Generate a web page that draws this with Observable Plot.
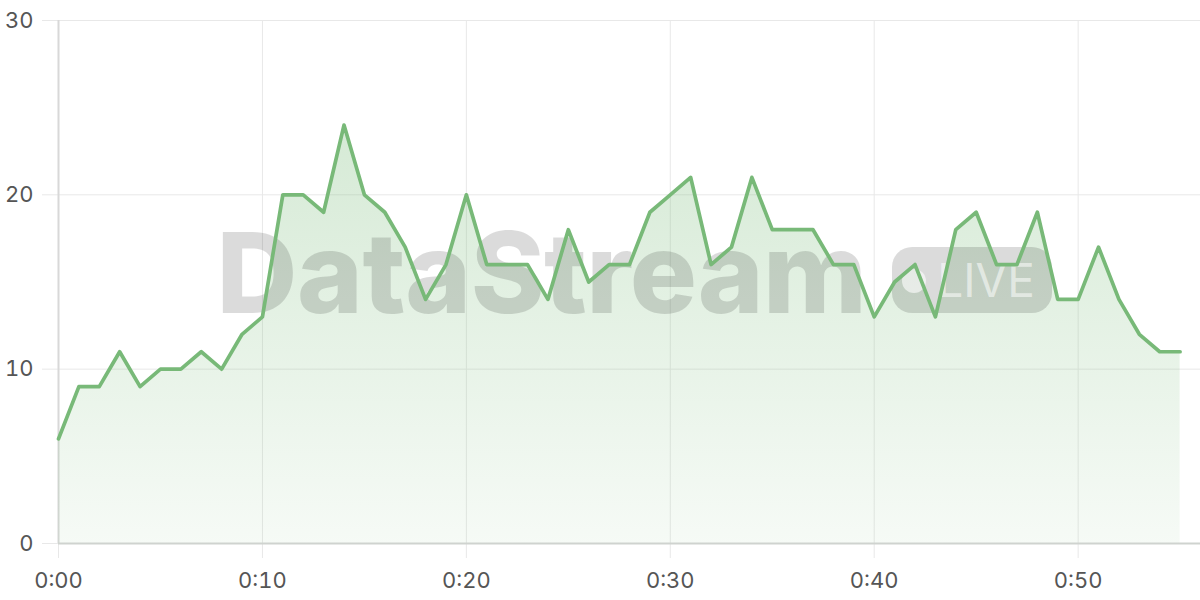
<!DOCTYPE html>
<html>
<head>
<meta charset="utf-8">
<script src="https://cdn.jsdelivr.net/npm/d3@7"></script>
<script src="https://cdn.jsdelivr.net/npm/@observablehq/plot@0.6"></script>
<style>
  html, body { margin: 0; padding: 0; background: #fff; }
  #chart svg { display: block; font-family: Inter, "Noto Sans", sans-serif; }
</style>
</head>
<body>
<div id="chart"></div>
<script>
// minutes since start
const minutes = d3.range(0, 56);
const values = [6, 9, 9, 11, 9, 10, 10, 11, 10, 12,
                13, 20, 20, 19, 24, 20, 19, 17, 14, 16,
                20, 16, 16, 16, 14, 18, 15, 16, 16, 19,
                20, 21, 16, 17, 21, 18, 18, 18, 16, 16,
                13, 15, 16, 13, 18, 19, 16, 16, 19, 14,
                14, 17, 14, 12, 11, 11];
const xTicks = [0, 10, 20, 30, 40, 50];
const yTicks = [0, 10, 20, 30];
const watermark = "DataStream";
const badgeText = "LIVE";

const data = minutes.map((m, i) => ({m, v: values[i]}));
const fmt = d => "0:" + String(d).padStart(2, "0");

const defs = () => {
  const g = d3.create("svg:defs");
  const grad = g.append("linearGradient")
    .attr("id", "areaGrad").attr("x1", 0).attr("y1", 0).attr("x2", 0).attr("y2", 1);
  grad.append("stop").attr("offset", "0%").attr("stop-color", "#7dbd7d").attr("stop-opacity", 0.32);
  grad.append("stop").attr("offset", "100%").attr("stop-color", "#7dbd7d").attr("stop-opacity", 0.07);
  return g.node();
};

const plot = Plot.plot({
  width: 1200,
  height: 600,
  marginLeft: 58,
  marginRight: 0,
  marginTop: 20,
  marginBottom: 57,
  style: {fontSize: "22px", color: "#555", fontFamily: "Inter, 'Noto Sans', sans-serif"},
  x: {domain: [0, 56]},
  y: {domain: [0, 30]},
  marks: [
    defs,
    Plot.gridY(yTicks, {stroke: "#e8e8e8", strokeOpacity: 1}),
    Plot.gridX(xTicks, {stroke: "#e8e8e8", strokeOpacity: 1}),
    Plot.axisY(yTicks, {tickSize: 16, tickPadding: 9, stroke: "#e8e8e8", strokeOpacity: 1, fill: "#555", label: null}),
    Plot.axisX(xTicks, {tickSize: 15, tickPadding: 14, stroke: "#e8e8e8", strokeOpacity: 1, fill: "#555", label: null, tickFormat: fmt}),
    Plot.ruleX([0], {stroke: "#d8d8d8", strokeWidth: 2}),
    Plot.areaY(data, {x: "m", y: "v", fill: "url(#areaGrad)", className: "area"}),
    Plot.ruleY([0], {stroke: "#cfd3cf", strokeWidth: 2}),
    Plot.text([watermark], {frameAnchor: "middle", dx: -88, dy: -5, fontSize: 112, fontWeight: 800,
      fill: "#000", fillOpacity: 0.14, className: "wm"}),
    Plot.line(data, {x: "m", y: "v", stroke: "#78b978", strokeWidth: 3.7, className: "ln"})
  ]
});

// badge for "LIVE" next to watermark
const svg = d3.select(plot);
svg.select("g.wm text").style("letter-spacing", "-0.5px");
const lineG = svg.select("g.ln").node();
const badge = svg.insert("g", () => lineG);
const bx = 892, by = 247, bw = 160, bh = 66;
badge.append("rect").attr("x", bx).attr("y", by).attr("width", bw).attr("height", bh)
  .attr("rx", 20).attr("fill", "#000").attr("fill-opacity", 0.14);
badge.append("circle").attr("cx", bx + 22).attr("cy", by + 34).attr("r", 12)
  .attr("fill", "#fff").attr("fill-opacity", 0.6);
badge.append("text").attr("x", bx + 94).attr("y", by + 50).attr("text-anchor", "middle")
  .attr("font-size", 46).attr("fill", "#fff").attr("fill-opacity", 0.55).text(badgeText);

document.getElementById("chart").append(plot);
</script>
</body>
</html>
